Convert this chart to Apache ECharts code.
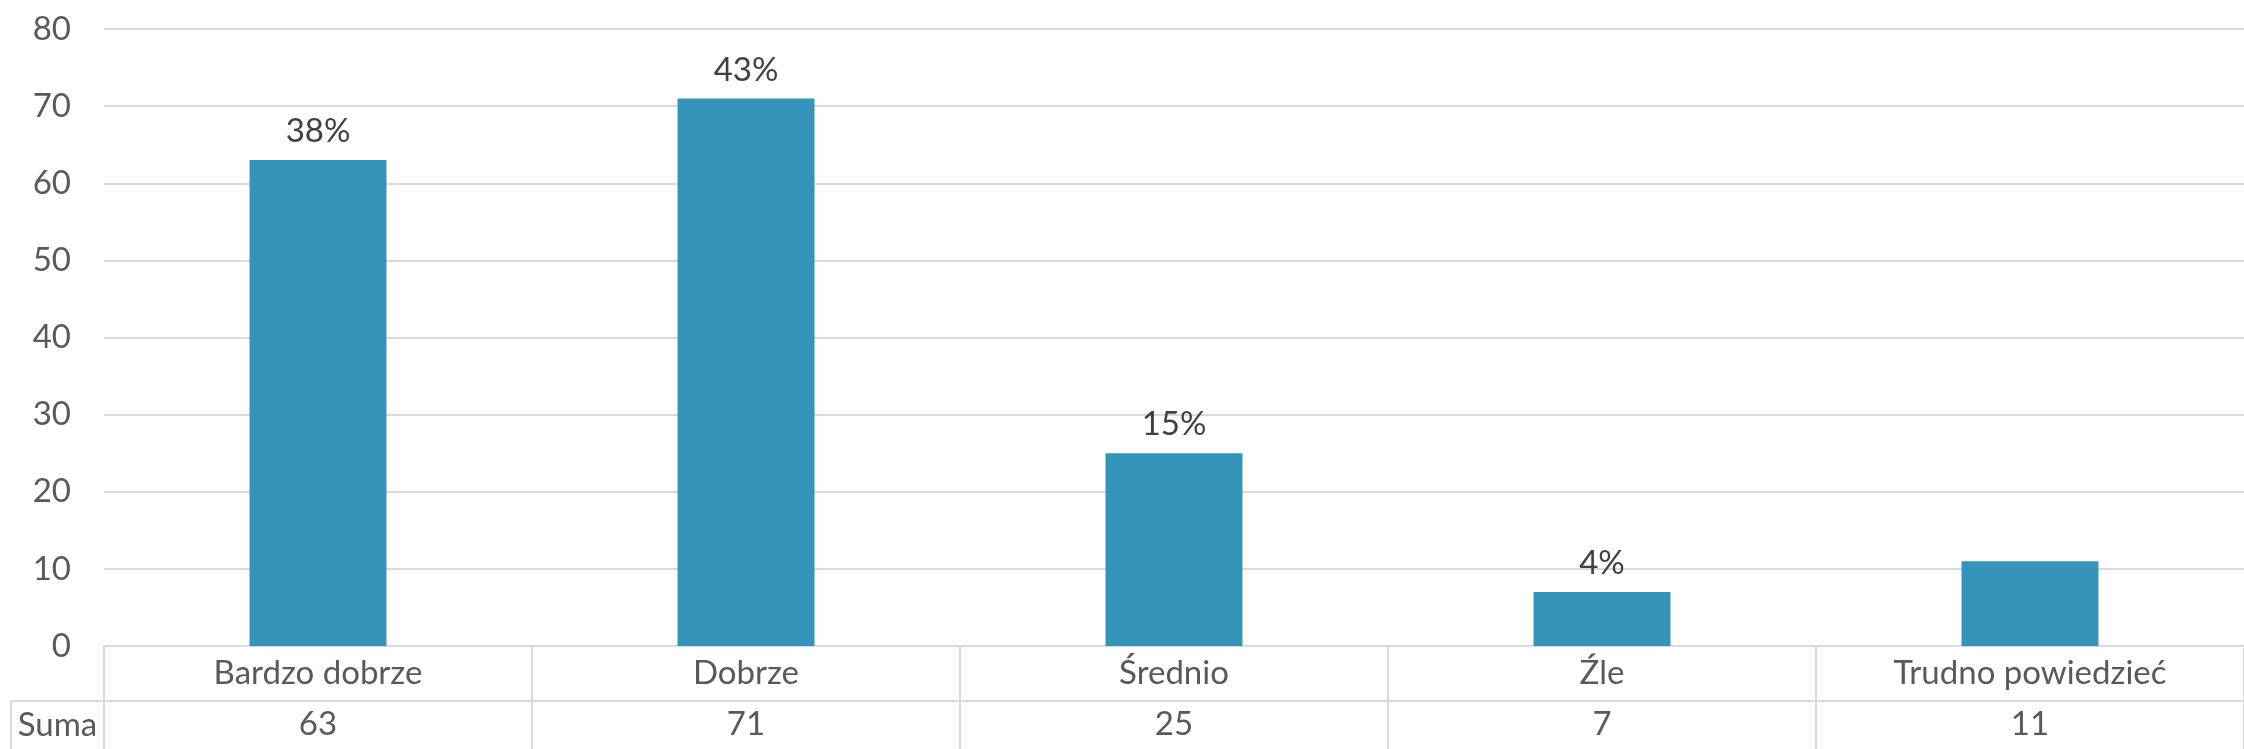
<!DOCTYPE html>
<html>
<head>
<meta charset="utf-8">
<script src="https://cdn.jsdelivr.net/npm/echarts@6/dist/echarts.min.js"></script>
<style>
    html, body { margin: 0; padding: 0; background: #fff; }
    #chart { width: 2244px; height: 749px; }
</style>
</head>
<body>
<div id="chart"></div>
<script>
// dane wykresu
var categories = ['Bardzo dobrze', 'Dobrze', 'Średnio', 'Źle', 'Trudno powiedzieć'];
var sums = [63, 71, 25, 7, 11];
var percentLabels = ['38%', '43%', '15%', '4%', ''];
var rowTitle = 'Suma';

var chart = echarts.init(document.getElementById('chart'));
var font = 'Lato';
var fontSize = 33;
var gridLine = '#d9d9d9';
var row1 = 55, row2 = 48;

var option = {
    animation: false,
    textStyle: { fontFamily: font },
    grid: { left: 104, right: -10, top: 29, bottom: 103 },
    xAxis: [{
        type: 'category',
        data: categories,
        position: 'bottom',
        axisLine: { show: true, lineStyle: { color: gridLine, width: 2 } },
        axisTick: { show: true, interval: 0, length: row1, lineStyle: { color: gridLine, width: 2 } },
        axisLabel: { interval: 0, color: '#595959', fontSize: fontSize, fontFamily: font, margin: 11 }
    }, {
        // wiersz tabeli danych
        type: 'category',
        data: sums.map(String),
        position: 'bottom',
        offset: row1,
        axisLine: { show: true, lineStyle: { color: gridLine, width: 2 } },
        axisTick: { show: true, interval: 0, length: row2, lineStyle: { color: gridLine, width: 2 } },
        axisLabel: { interval: 0, color: '#595959', fontSize: fontSize, fontFamily: font, margin: 7 }
    }],
    yAxis: {
        type: 'value',
        min: 0,
        max: 80,
        interval: 10,
        axisLine: { show: false },
        axisTick: { show: false },
        splitLine: { lineStyle: { color: gridLine, width: 2 } },
        axisLabel: { color: '#595959', fontSize: fontSize, fontFamily: font, margin: 33 }
    },
    series: [{
        type: 'bar',
        data: sums,
        barWidth: '32%',
        itemStyle: { color: '#3494BA' },
        label: {
            show: true,
            position: 'top',
            distance: 12,
            color: '#404040',
            fontSize: fontSize,
            fontFamily: font,
            formatter: function (p) { return percentLabels[p.dataIndex]; }
        }
    }]
};
chart.setOption(option);

// ramka i nagłówek wiersza "Suma"
var x0 = chart.convertToPixel({ xAxisIndex: 0 }, 0) - (chart.convertToPixel({ xAxisIndex: 0 }, 1) - chart.convertToPixel({ xAxisIndex: 0 }, 0)) / 2;
var yZero = chart.convertToPixel({ yAxisIndex: 0 }, 0);
var rowTop = yZero + row1;
var rowBottom = 749;
chart.setOption({
    graphic: [{
        type: 'line',
        shape: { x1: 11, y1: rowTop, x2: x0, y2: rowTop },
        style: { stroke: gridLine, lineWidth: 2 }
    }, {
        type: 'line',
        shape: { x1: 11, y1: rowTop, x2: 11, y2: rowBottom },
        style: { stroke: gridLine, lineWidth: 2 }
    }, {
        type: 'text',
        x: (11 + x0) / 2,
        y: (rowTop + rowBottom) / 2,
        style: {
            text: rowTitle,
            fill: '#595959',
            font: fontSize + 'px ' + font,
            align: 'center',
            verticalAlign: 'middle'
        }
    }]
});
</script>
</body>
</html>
